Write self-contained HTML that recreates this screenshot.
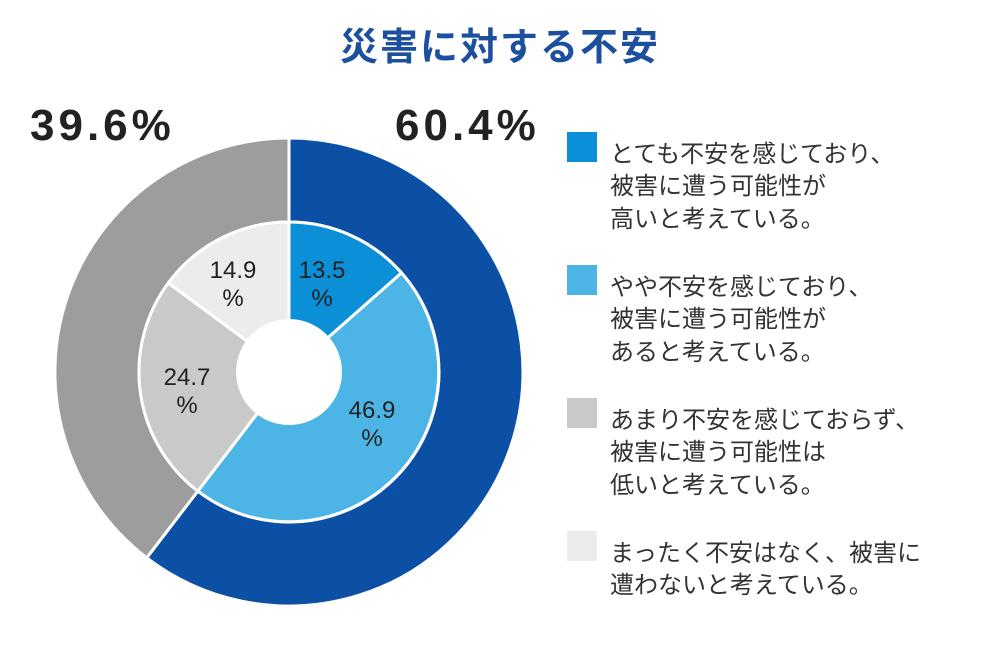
<!DOCTYPE html>
<html><head><meta charset="utf-8"><style>
body{margin:0;background:#fff;width:1000px;height:655px;overflow:hidden;font-family:"Liberation Sans","Noto Sans CJK JP",sans-serif;}
</style></head><body>
<svg width="1000" height="655" xmlns="http://www.w3.org/2000/svg" style="font-family:'Liberation Sans','Noto Sans CJK JP',sans-serif">
<text x="500" y="60" text-anchor="middle" font-size="38" font-weight="bold" fill="#1d4f9f" letter-spacing="2">災害に対する不安</text>
<text x="30" y="140" font-size="44" font-weight="bold" fill="#222" letter-spacing="4">39.6%</text>
<text x="395" y="140" font-size="44" font-weight="bold" fill="#222" letter-spacing="4">60.4%</text>
<g stroke="#fff" stroke-width="3">
<path d="M289 138 A234 234 0 1 1 146.7 557.8 L197.8 491.1 A150 150 0 1 0 289 222 Z" fill="#0b50a4"/>
<path d="M146.7 557.8 A234 234 0 0 1 289 138 L289 222 A150 150 0 0 0 197.8 491.1 Z" fill="#9d9d9d"/>
<path d="M289 372 L289 222 A150 150 0 0 1 401.5 272.9 Z" fill="#0b8fd7"/>
<path d="M289 372 L401.5 272.9 A150 150 0 0 1 197.8 491.1 Z" fill="#4db5e6"/>
<path d="M289 372 L197.8 491.1 A150 150 0 0 1 168.3 283 Z" fill="#c9c9c9"/>
<path d="M289 372 L168.3 283 A150 150 0 0 1 289 222 Z" fill="#ececec"/>
</g>
<circle cx="289" cy="372" r="53" fill="#fff"/>
<g font-size="24" fill="#222" text-anchor="middle">
<text x="322" y="278">13.5</text><text x="322" y="306">%</text>
<text x="372" y="418">46.9</text><text x="372" y="446">%</text>
<text x="187" y="385">24.7</text><text x="187" y="413">%</text>
<text x="233" y="278">14.9</text><text x="233" y="306">%</text>
</g>
<rect x="567" y="132" width="30" height="30" fill="#0b8fd7"/>
<rect x="567" y="265" width="30" height="30" fill="#4db5e6"/>
<rect x="567" y="398" width="30" height="30" fill="#c9c9c9"/>
<rect x="567" y="531" width="30" height="30" fill="#ececec"/>
<g font-size="24" fill="#333">
<text x="610" y="162">とても不安を感じており、</text>
<text x="610" y="194">被害に遭う可能性が</text>
<text x="610" y="227">高いと考えている。</text>
<text x="610" y="295">やや不安を感じており、</text>
<text x="610" y="327">被害に遭う可能性が</text>
<text x="610" y="360">あると考えている。</text>
<text x="610" y="428">あまり不安を感じておらず、</text>
<text x="610" y="460">被害に遭う可能性は</text>
<text x="610" y="493">低いと考えている。</text>
<text x="610" y="561">まったく不安はなく、被害に</text>
<text x="610" y="593">遭わないと考えている。</text>
</g>
</svg>
</body></html>
